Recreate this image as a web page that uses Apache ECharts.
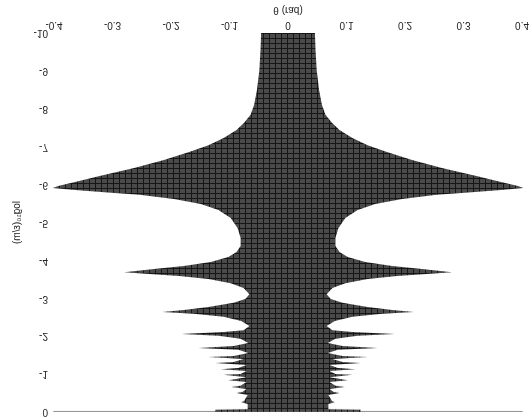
<!DOCTYPE html>
<html><head><meta charset="utf-8">
<script src="https://cdn.jsdelivr.net/npm/echarts@6/dist/echarts.min.js"></script>
<style>html,body{margin:0;padding:0;background:#fff;overflow:hidden}#c{width:532px;height:418px;transform:scaleY(-1);}</style>
</head><body><div id="c"></div>
<script>
// profile of the distribution: level (log scale) and half-width in theta (rad)
const logLevel = [-10.00,-9.55,-9.02,-8.50,-8.10,-7.84,-7.63,-7.44,-7.23,-7.04,-6.86,-6.65,-6.44,-6.23,-6.07,-5.96,-5.91,-5.86,-5.80,-5.73,-5.62,-5.49,-5.33,-5.12,-4.85,-4.59,-4.38,-4.22,-4.09,-3.96,-3.85,-3.77,-3.69,-3.64,-3.59,-3.51,-3.40,-3.27,-3.11,-2.98,-2.88,-2.77,-2.69,-2.64,-2.59,-2.51,-2.40,-2.27,-2.16,-2.11,-2.06,-2.01,-1.93,-1.82,-1.74,-1.69,-1.64,-1.56,-1.48,-1.45,-1.40,-1.32,-1.29,-1.24,-1.16,-1.13,-1.08,-1.00,-0.98,-0.92,-0.84,-0.79,-0.69,-0.66,-0.61,-0.53,-0.50,-0.45,-0.29,-0.26,-0.21,-0.07,-0.06,0.00];
const halfTheta = [0.046,0.047,0.049,0.053,0.058,0.064,0.075,0.088,0.110,0.136,0.169,0.212,0.263,0.322,0.364,0.393,0.402,0.364,0.314,0.254,0.195,0.149,0.119,0.098,0.086,0.081,0.081,0.088,0.102,0.132,0.178,0.229,0.280,0.237,0.186,0.136,0.098,0.076,0.066,0.073,0.093,0.136,0.178,0.215,0.161,0.110,0.080,0.066,0.076,0.110,0.182,0.119,0.081,0.068,0.093,0.153,0.085,0.068,0.093,0.136,0.076,0.093,0.124,0.071,0.085,0.115,0.071,0.081,0.110,0.071,0.102,0.071,0.081,0.097,0.071,0.078,0.088,0.069,0.075,0.080,0.069,0.069,0.124,0.124];
const xTicks = {min: -0.4, max: 0.4, step: 0.1};
const yTicks = {min: -10, max: 0, step: 1};
const xName = 'θ (rad)';
const yName = 'log₁₀(ε/m)';

// cell texture
const pat = document.createElement('canvas');
pat.width = 6; pat.height = 5;
const pc = pat.getContext('2d');
pc.fillStyle = '#4a4a4a'; pc.fillRect(0,0,6,5);
pc.fillStyle = '#161616'; pc.fillRect(5,0,1,5); pc.fillRect(0,4,6,1);

const chart = echarts.init(document.getElementById('c'), null, {renderer:'canvas'});
const font = 'Liberation Sans, Arial, sans-serif';
chart.setOption({
  animation:false,
  backgroundColor:'#fff',
  grid:{left:54, width:472, top:6, height:379, containLabel:false},
  xAxis:[{
    type:'value', min:xTicks.min, max:xTicks.max, interval:xTicks.step, position:'bottom',
    axisLine:{show:true, lineStyle:{color:'#8a8a8a', type:'dotted', width:1}},
    axisTick:{show:false}, splitLine:{show:false},
    axisLabel:{fontSize:10, color:'#222', margin:3, fontFamily:font},
    name:xName, nameLocation:'middle', nameGap:14,
    nameTextStyle:{fontSize:10, color:'#222', fontFamily:font}
  },{
    type:'value', min:xTicks.min, max:xTicks.max, position:'top',
    axisLine:{show:true, lineStyle:{color:'#8a8a8a', type:'dotted', width:1}},
    axisTick:{show:false}, axisLabel:{show:false}, splitLine:{show:false}
  }],
  yAxis:{
    type:'value', min:yTicks.min, max:yTicks.max, interval:yTicks.step,
    axisLine:{show:false}, axisTick:{show:false}, splitLine:{show:false},
    axisLabel:{fontSize:10, color:'#222', margin:6, fontFamily:font},
    name:yName, nameLocation:'middle', nameGap:22,
    nameTextStyle:{fontSize:10, color:'#222', fontFamily:font}
  },
  series:[{
    type:'custom',
    coordinateSystem:'cartesian2d',
    data:[[0,0]],
    renderItem:function(params, api){
      const pts = [];
      for (let i=0;i<logLevel.length;i++) pts.push(api.coord([halfTheta[i], logLevel[i]]));
      for (let i=logLevel.length-1;i>=0;i--) pts.push(api.coord([-halfTheta[i], logLevel[i]]));
      return {type:'polygon', shape:{points:pts}, style:{fill:{image:pat, repeat:'repeat'}, stroke:null}};
    }
  }]
});
</script></body></html>
